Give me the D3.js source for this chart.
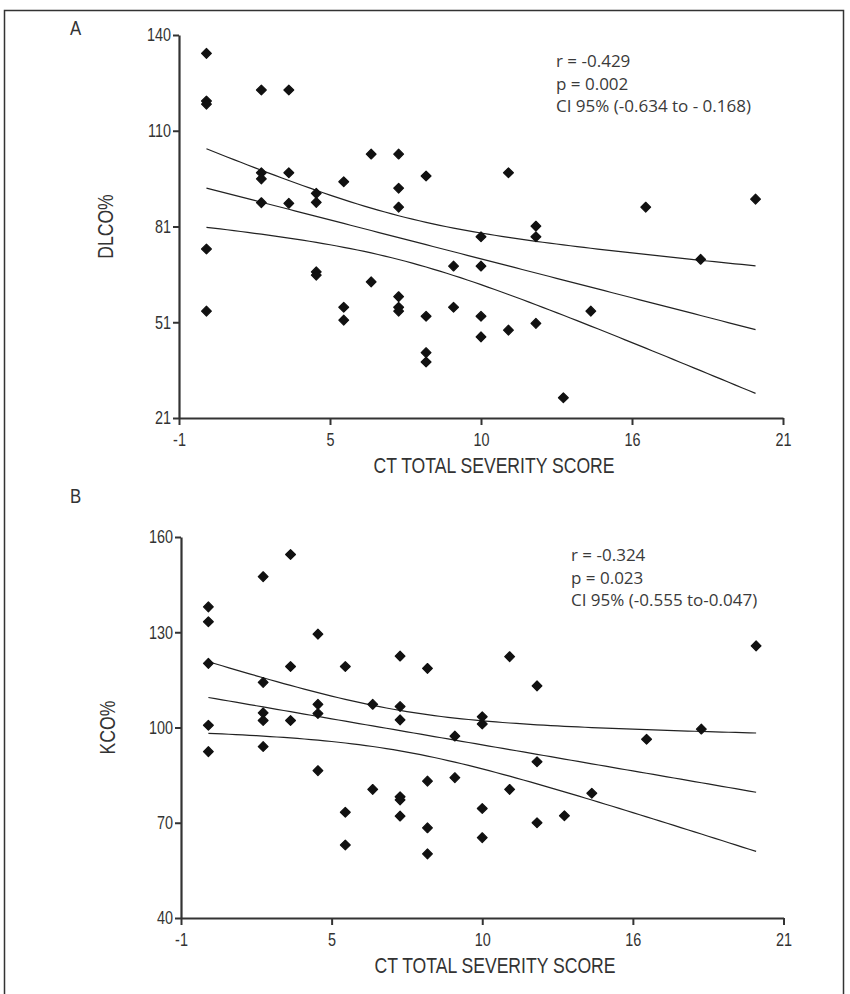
<!DOCTYPE html>
<html>
<head>
<meta charset="utf-8">
<script src="https://cdn.jsdelivr.net/npm/d3@7"></script>
<style>
  html, body { margin: 0; padding: 0; background: #fff; }
  svg { display: block; }
  .tick text, .lab { font-family: "Liberation Sans", Arial, sans-serif; fill: #333; }
  .ann { font-family: "Open Sans", "Noto Sans", sans-serif; fill: #3a3a3a; font-size: 17px; }
</style>
</head>
<body>
<script>
// ---------- DATA ----------
const xTickValues = [-1, 4.5, 10, 15.5, 21];
const xTickLabels = ["-1", "5", "10", "16", "21"];
const xTitle = "CT TOTAL SEVERITY SCORE";

// Panel A: DLCO%
const yTickValuesA = [21, 50.75, 80.5, 110.25, 140];
const yTickLabelsA = ["21", "51", "81", "110", "140"];
const scoreA = [0,0,0,0,0, 2,2,2,2, 3,3,3, 4,4,4,4, 5,5,5, 6,6, 7,7,7,7,7,7, 8,8,8,8, 9,9, 10,10,10,10, 11,11, 12,12,12, 13, 14, 16, 18, 20];
const dlco   = [134.3,119.5,118.5,73.5,54.2, 122.9,97.2,95.3,87.9, 122.9,97.2,87.7, 90.8,88.0,66.4,65.4, 94.4,55.4,51.4, 103.0,63.3, 103.0,92.4,86.5,58.7,55.4,54.2, 96.2,52.6,41.3,38.4, 68.2,55.4, 77.3,68.2,52.6,46.2, 97.2,48.3, 80.6,77.3,50.4, 27.3, 54.2, 86.5, 70.3, 89.0];
const statsA = ["r = -0.429", "p = 0.002", "CI 95% (-0.634 to - 0.168)"];

// Panel B: KCO%
const yTickValuesB = [40, 70, 100, 130, 160];
const yTickLabelsB = ["40", "70", "100", "130", "160"];
const scoreB = [0,0,0,0,0, 2,2,2,2,2, 3,3,3, 4,4,4,4, 5,5,5, 6,6, 7,7,7,7,7,7, 8,8,8,8, 9,9, 10,10,10,10, 11,11, 12,12,12, 13, 14, 16, 18, 20];
const kco    = [138.0,133.3,120.2,100.7,92.4, 147.5,114.2,104.6,102.2,94.0, 154.5,119.2,102.2, 129.4,107.3,104.4,86.4, 119.2,73.3,63.0, 107.3,80.5, 122.5,106.6,102.4,78.2,77.2,72.1, 118.6,83.1,68.4,60.2, 97.3,84.2, 103.4,101.1,74.5,65.3, 122.3,80.5, 113.1,89.2,70.0, 72.2, 79.3, 96.3, 99.5, 125.7];
const statsB = ["r = -0.324", "p = 0.023", "CI 95%  (-0.555 to-0.047)"];

// ---------- DRAW ----------
const W = 850, H = 994;
const NARROW = 0.8;
const svg = d3.select("body").append("svg").attr("width", W).attr("height", H);

// outer frame
svg.append("rect").attr("x", 4.5).attr("y", 10.5).attr("width", 839).attr("height", 990)
  .attr("fill", "none").attr("stroke", "#333").attr("stroke-width", 1.5);

function tQuantile975(df) {
  const z = 1.959964;
  return z + (z*z*z + z) / (4*df) + (5*Math.pow(z,5) + 16*z*z*z + 3*z) / (96*df*df)
    + (3*Math.pow(z,7) + 19*Math.pow(z,5) + 17*z*z*z - 15*z) / (384*df*df*df);
}

function narrowText(parent, x, y, size, txt, anchor, rot) {
  return parent.append("text").attr("class", "lab")
    .attr("transform", `translate(${x},${y})${rot ? ` rotate(${rot})` : ""} scale(${NARROW},1)`)
    .attr("text-anchor", anchor).attr("font-size", size).text(txt);
}

function panel(cfg) {
  const x = d3.scaleLinear().domain([-1, 21]).range([cfg.x0, cfg.x1]);
  const y = d3.scaleLinear().domain(cfg.yDomain).range([cfg.y1, cfg.y0]);
  const g = svg.append("g");

  // axes
  const xAxis = d3.axisBottom(x).tickValues(xTickValues)
    .tickFormat((d, i) => xTickLabels[i]).tickSize(7).tickPadding(4).tickSizeOuter(0);
  const gx = g.append("g").attr("transform", `translate(0,${cfg.y1})`).call(xAxis);
  const yAxis = d3.axisLeft(y).tickValues(cfg.yTicks)
    .tickFormat((d, i) => cfg.yLabels[i]).tickSize(6).tickPadding(2).tickSizeOuter(0);
  const gy = g.append("g").attr("transform", `translate(${cfg.x0},0)`).call(yAxis);
  [gx, gy].forEach(a => {
    a.select(".domain").attr("stroke", "#333").attr("stroke-width", 2.2);
    a.selectAll(".tick line").attr("stroke", "#333").attr("stroke-width", 2);
    a.selectAll(".tick text").attr("font-size", 18).attr("transform", `scale(${NARROW},1)`);
  });
  gx.selectAll(".tick text").attr("dy", "0.95em");
  gy.selectAll(".tick text").attr("x", -8 / NARROW);

  // regression line & 95% confidence band computed from the points
  const xs = cfg.xs, ys = cfg.ys, n = xs.length;
  const mx = d3.mean(xs), my = d3.mean(ys);
  let sxx = 0, sxy = 0;
  for (let i = 0; i < n; i++) { sxx += (xs[i]-mx)**2; sxy += (xs[i]-mx)*(ys[i]-my); }
  const b = sxy / sxx, a = my - b * mx;
  let sse = 0;
  for (let i = 0; i < n; i++) sse += (ys[i] - (a + b*xs[i]))**2;
  const s = Math.sqrt(sse / (n - 2));
  const t = tQuantile975(n - 2);
  const grid = d3.range(d3.min(xs), d3.max(xs) + 0.001, 0.25);
  const band = k => grid.map(v => [v, a + b*v + k * t * s * Math.sqrt(1/n + (v-mx)**2 / sxx)]);
  const line = d3.line().x(d => x(d[0])).y(d => y(d[1]));
  [band(0), band(1), band(-1)].forEach(pts => {
    g.append("path").attr("d", line(pts)).attr("fill", "none")
      .attr("stroke", "#222").attr("stroke-width", 1.2);
  });

  // points
  const sym = d3.symbol().type(d3.symbolSquare).size(48);
  g.selectAll("path.pt").data(xs.map((v, i) => [v, ys[i]])).join("path")
    .attr("class", "pt")
    .attr("d", sym)
    .attr("transform", d => `translate(${x(d[0])},${y(d[1])}) rotate(45)`)
    .attr("fill", "#111").attr("stroke", "#111").attr("stroke-width", 1.2)
    .attr("stroke-linejoin", "round");

  // titles
  narrowText(g, cfg.titleX, cfg.y1 + 55, 22, xTitle, "middle");
  narrowText(g, cfg.x0 - 66, (cfg.y0 + cfg.y1) / 2, 22, cfg.yTitle, "middle", -90);
  narrowText(g, 70, cfg.letterY, 21, cfg.letter, "start");

  // stats annotation
  cfg.stats.forEach((txt, i) => {
    g.append("text").attr("class", "ann")
      .attr("x", cfg.annX).attr("y", cfg.annY + i * 22.5).text(txt);
  });
}

panel({ x0: 179, x1: 783, y0: 35, y1: 418, yDomain: [21, 140],
  yTicks: yTickValuesA, yLabels: yTickLabelsA, yTitle: "DLCO%", titleX: 494,
  xs: scoreA, ys: dlco, stats: statsA, annX: 556, annY: 67, letter: "A", letterY: 35 });

panel({ x0: 181, x1: 783.5, y0: 537, y1: 918, yDomain: [40, 160],
  yTicks: yTickValuesB, yLabels: yTickLabelsB, yTitle: "KCO%", titleX: 495,
  xs: scoreB, ys: kco, stats: statsB, annX: 571, annY: 561, letter: "B", letterY: 503 });
</script>
</body>
</html>
